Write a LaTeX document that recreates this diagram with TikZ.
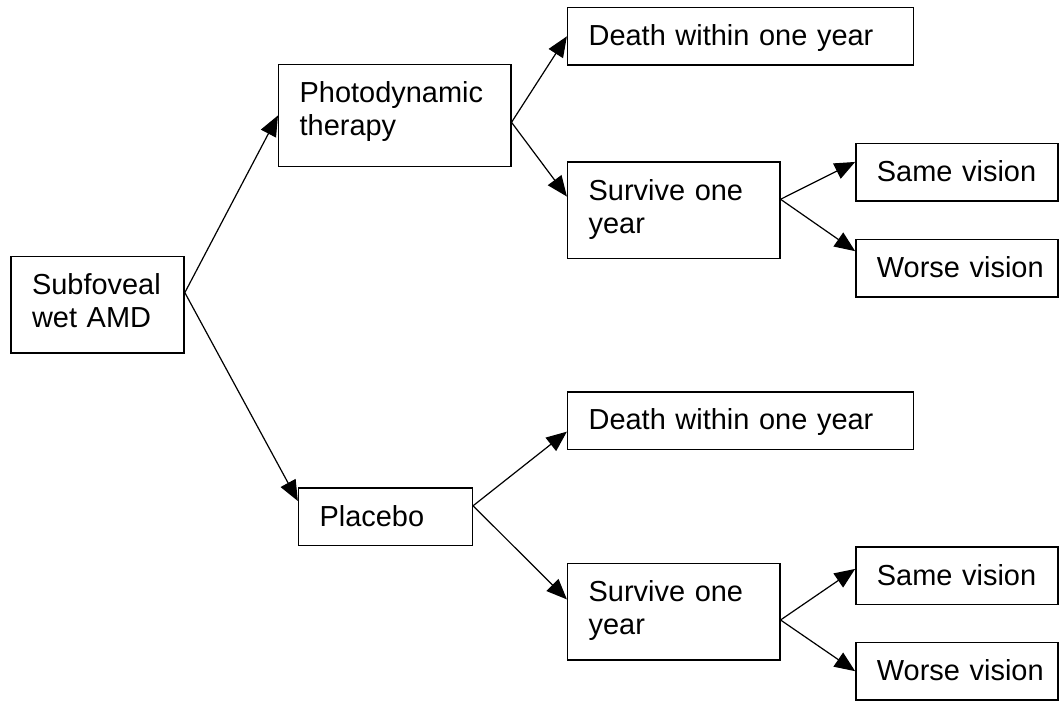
\documentclass[tikz,border=0pt]{standalone}
\usepackage{fontspec}
\setmainfont{Liberation Sans}
\usetikzlibrary{arrows.meta}

\tikzset{
  box/.style={draw, line width=0.6pt, align=left, anchor=north west,
    inner xsep=0.306cm, inner ysep=0pt, text height=0.554cm, text depth=0.284cm,
    font=\fontsize{12}{13.7}\selectfont},
  twoline/.style={box, text depth=0.852cm},
  arr/.style={-{Triangle[length=8.5pt,width=7pt]}, line width=0.5pt}
}

\begin{document}
\begin{tikzpicture}
    \useasboundingbox (0,0) rectangle (15.43,-10.2); % 画布大小
    \node (sub) at (0.15,-3.73) [twoline, text width=1.91cm] {Subfoveal wet AMD}; % 起点
    \node (pdt) at (4.05,-0.93) [twoline, text width=2.77cm, text depth=0.93cm] {Photodynamic therapy}; % 光动力治疗
    \node (plc) at (4.34,-7.10) [box, text width=1.92cm] {Placebo}; % 安慰剂
    \node (dth1) at (8.26,-0.10) [box, text width=4.43cm] {Death within one year}; % 上支: 死亡
    \node (srv1) at (8.26,-2.35) [twoline, text width=2.48cm] {Survive one year}; % 上支: 存活
    \node (same1) at (12.46,-2.08) [box, text width=2.33cm] {Same vision}; % 视力不变
    \node (worse1) at (12.46,-3.48) [box, text width=2.33cm] {\mbox{Worse vision}}; % 视力变差
    \node (dth2) at (8.26,-5.70) [box, text width=4.43cm] {Death within one year}; % 下支: 死亡
    \node (srv2) at (8.26,-8.20) [twoline, text width=2.48cm] {Survive one year}; % 下支: 存活
    \node (same2) at (12.46,-7.96) [box, text width=2.33cm] {Same vision}; % 视力不变
    \node (worse2) at (12.46,-9.35) [box, text width=2.33cm] {\mbox{Worse vision}}; % 视力变差

    \draw[arr] ([yshift=0.18cm]sub.east) -- (pdt.west); % 治疗分支
    \draw[arr] ([yshift=0.18cm]sub.east) -- ([yshift=0.23cm]plc.west);
    \draw[arr] ([yshift=-0.10cm]pdt.east) -- (dth1.west);
    \draw[arr] ([yshift=-0.10cm]pdt.east) -- ([yshift=0.20cm]srv1.west);
    \draw[arr] ([yshift=0.16cm]srv1.east) -- ([yshift=0.15cm]same1.west);
    \draw[arr] ([yshift=0.16cm]srv1.east) -- ([yshift=0.25cm]worse1.west);
    \draw[arr] ([yshift=0.16cm]plc.east) -- ([yshift=-0.16cm]dth2.west);
    \draw[arr] ([yshift=0.16cm]plc.east) -- ([yshift=0.18cm]srv2.west);
    \draw[arr] ([yshift=-0.12cm]srv2.east) -- ([yshift=0.10cm]same2.west);
    \draw[arr] ([yshift=-0.12cm]srv2.east) -- (worse2.west);
\end{tikzpicture}
\end{document}
